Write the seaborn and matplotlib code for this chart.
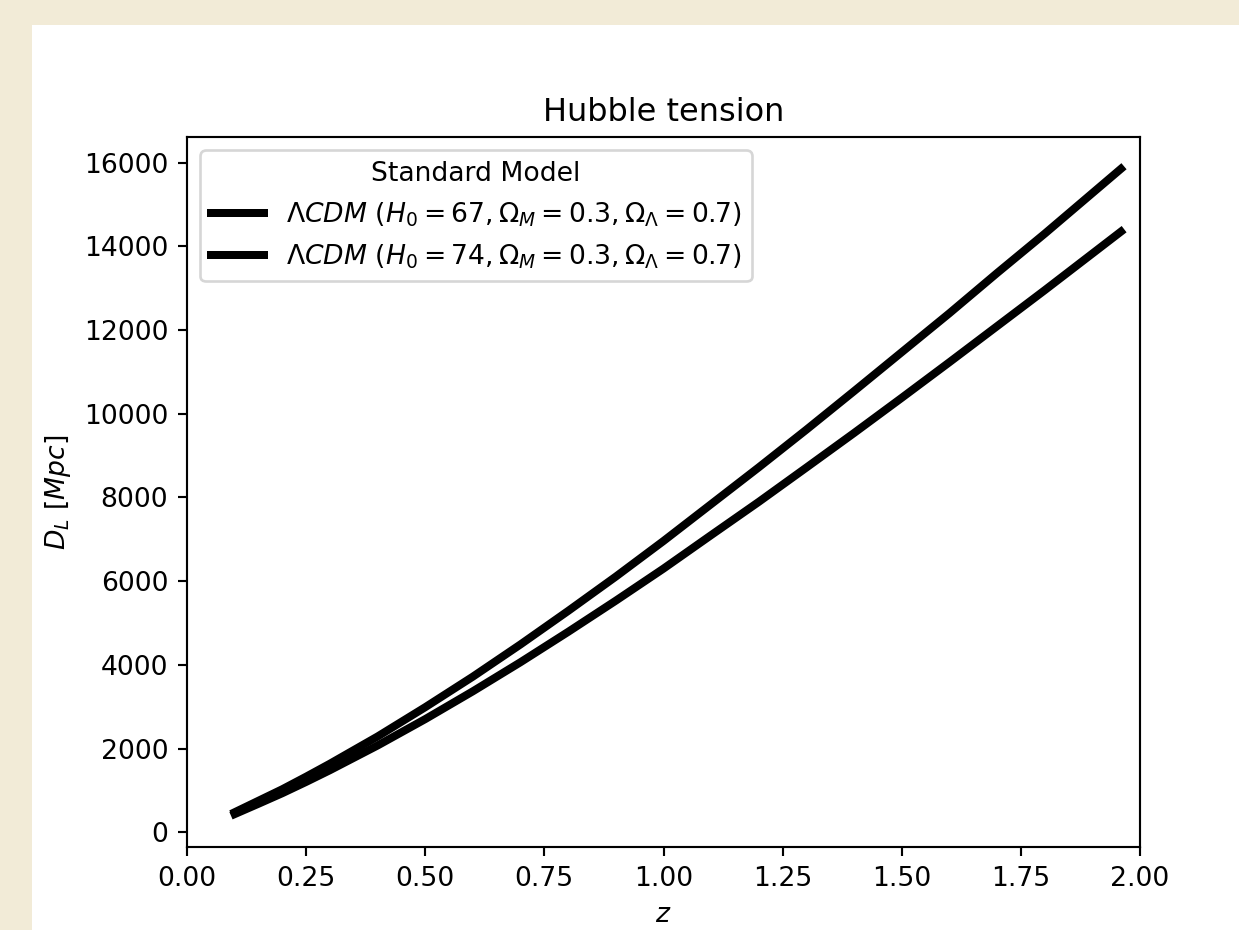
import numpy as np
import pandas as pd
import seaborn as sns
import matplotlib.pyplot as plt
from matplotlib.patches import Rectangle

# redshift samples and luminosity distances (Mpc)
z = [0.1, 0.15, 0.2, 0.25, 0.3, 0.4, 0.5, 0.6, 0.7, 0.8, 0.9, 1.0, 1.1, 1.2,
     1.3, 1.4, 1.5, 1.6, 1.7, 1.8, 1.96]
dl_67 = [480, 755, 1030, 1330, 1640, 2290, 2990, 3720, 4490, 5290, 6110, 6960,
         7840, 8720, 9620, 10540, 11470, 12400, 13360, 14300, 15850]
dl_74 = [435, 683, 935, 1205, 1485, 2075, 2705, 3370, 4065, 4790, 5535, 6300,
         7100, 7895, 8715, 9540, 10380, 11230, 12090, 12950, 14350]

labels = [r'$\Lambda CDM\ (H_0 = 67, \Omega_M = 0.3, \Omega_\Lambda = 0.7)$',
          r'$\Lambda CDM\ (H_0 = 74, \Omega_M = 0.3, \Omega_\Lambda = 0.7)$']

W, H, DPI = 1239, 930, 192
fig = plt.figure(figsize=(W / DPI, H / DPI), dpi=DPI, facecolor='#f2ebd7')
# white page area (the screenshot shows a beige margin top and left)
fig.patches.append(Rectangle((32 / W, 0), 1 - 32 / W, 1 - 25 / H,
                             transform=fig.transFigure, facecolor='white',
                             edgecolor='none', zorder=-10))
ax = fig.add_axes([187 / W, (H - 847) / H, 953 / W, 710 / H])

sns.lineplot(x=z, y=dl_67, ax=ax, color='black', lw=3, label=labels[0])
sns.lineplot(x=z, y=dl_74, ax=ax, color='black', lw=3, label=labels[1])

ax.set_xlim(0, 2)
ax.set_ylim(-350, 16610)
ax.set_title('Hubble tension')
ax.set_xlabel('$z$')
ax.set_ylabel(r'$D_L\ [Mpc]$')
ax.legend(loc='upper left', title='Standard Model')

fig.savefig('out.png', dpi=DPI, facecolor=fig.get_facecolor())
